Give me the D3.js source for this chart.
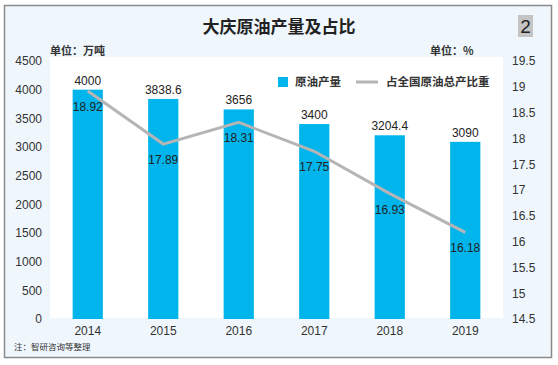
<!DOCTYPE html>
<html><head><meta charset="utf-8">
<script src="https://cdn.jsdelivr.net/npm/d3@7"></script>
<style>body{margin:0;background:#fff}svg{display:block}</style>
</head><body><svg id="c" width="558" height="365"></svg>
<script>
const years = ["2014","2015","2016","2017","2018","2019"];
const output = [4000, 3838.6, 3656, 3400, 3204.4, 3090];
const outputLabels = ["4000","3838.6","3656","3400","3204.4","3090"];
const share = [18.92, 17.89, 18.31, 17.75, 16.93, 16.18];
const leftTicks = [0,500,1000,1500,2000,2500,3000,3500,4000,4500];
const rightTicks = [14.5,15,15.5,16,16.5,17,17.5,18,18.5,19,19.5];
const title = "大庆原油产量及占比";
const seriesNames = ["原油产量","占全国原油总产比重"];

const svg = d3.select("#c");
const numFont = "'Liberation Sans', Arial, sans-serif";
const cjk = "'Noto Sans CJK SC', sans-serif";

svg.append("rect").attr("x",4.5).attr("y",5.5).attr("width",547).attr("height",352)
  .attr("fill","#eff7fd").attr("stroke","#8a8a8a").attr("stroke-width",1.5);

const L=50,R=503,T=57,B=318;
svg.append("rect").attr("x",L).attr("y",T).attr("width",R-L).attr("height",B-T).attr("fill","#fff");

const x = d3.scaleBand().domain(years).range([L,R]).paddingInner(0.6).paddingOuter(0.3);
const yL = d3.scaleLinear().domain([0,4500]).range([319,61]);
const yR = d3.scaleLinear().domain([14.5,19.5]).range([319,61]);

// title
svg.append("text").attr("x",279).attr("y",33).attr("text-anchor","middle")
  .attr("font-family",cjk).attr("font-weight","bold").attr("font-size",17).attr("fill","#222").text(title);
svg.append("rect").attr("x",518).attr("y",15).attr("width",15).attr("height",22).attr("fill","#c4c4c4");
svg.append("text").attr("x",525.5).attr("y",33).attr("text-anchor","middle").attr("font-family",numFont)
  .attr("font-size",19).attr("fill","#222").text("2");

svg.append("text").attr("x",50).attr("y",55).attr("font-family",cjk).attr("font-weight","bold")
  .attr("font-size",11).attr("fill","#333").text("单位：万吨");
svg.append("text").attr("x",430).attr("y",55).attr("font-family",cjk).attr("font-weight","bold")
  .attr("font-size",11).attr("fill","#333").text("单位：%");

// axes
const axL = svg.append("g").attr("transform",`translate(${L},0)`)
  .call(d3.axisLeft(yL).tickValues(leftTicks).tickSize(0).tickPadding(8).tickFormat(d3.format("d")));
const axR = svg.append("g").attr("transform",`translate(${R},0)`)
  .call(d3.axisRight(yR).tickValues(rightTicks).tickSize(0).tickPadding(9).tickFormat(d3.format("")));
const axX = svg.append("g").attr("transform",`translate(0,${B})`)
  .call(d3.axisBottom(x).tickSize(0).tickPadding(8));
[axL,axR,axX].forEach(a=>{a.select(".domain").remove();
  a.selectAll("text").attr("font-family",numFont).attr("font-size",12).attr("fill","#333");});

// bars
svg.append("g").selectAll("rect").data(years).join("rect")
  .attr("x",d=>x(d)).attr("width",x.bandwidth())
  .attr("y",(d,i)=>yL(output[i])).attr("height",(d,i)=>yL(0)-yL(output[i]))
  .attr("fill","#00b5ec");
svg.append("g").selectAll("text").data(years).join("text")
  .attr("x",d=>x(d)+x.bandwidth()/2).attr("y",(d,i)=>yL(output[i])-5)
  .attr("text-anchor","middle").attr("font-family",numFont).attr("font-size",12).attr("fill","#222")
  .text((d,i)=>outputLabels[i]);

// line
const line = d3.line().x((d,i)=>x(years[i])+x.bandwidth()/2).y(d=>yR(d));
svg.append("path").datum(share).attr("d",line).attr("fill","none")
  .attr("stroke","#b5b5b5").attr("stroke-width",3);
svg.append("g").selectAll("text").data(share).join("text")
  .attr("x",(d,i)=>x(years[i])+x.bandwidth()/2).attr("y",d=>yR(d)+20)
  .attr("text-anchor","middle").attr("font-family",numFont).attr("font-size",12).attr("fill","#222")
  .text(d=>d3.format(".2f")(d));

// legend
svg.append("rect").attr("x",278).attr("y",77).attr("width",10).attr("height",10).attr("fill","#00b5ec");
svg.append("text").attr("x",295).attr("y",86).attr("font-family",cjk).attr("font-weight","bold")
  .attr("font-size",11.5).attr("fill","#333").text(seriesNames[0]);
svg.append("line").attr("x1",356).attr("x2",378).attr("y1",82).attr("y2",82)
  .attr("stroke","#b5b5b5").attr("stroke-width",3);
svg.append("text").attr("x",386).attr("y",86).attr("font-family",cjk).attr("font-weight","bold")
  .attr("font-size",11.5).attr("fill","#333").text(seriesNames[1]);

// footnote
svg.append("text").attr("x",14).attr("y",350).attr("font-family",cjk)
  .attr("font-size",8.5).attr("fill","#333").text("注：智研咨询等整理");
</script></body></html>
